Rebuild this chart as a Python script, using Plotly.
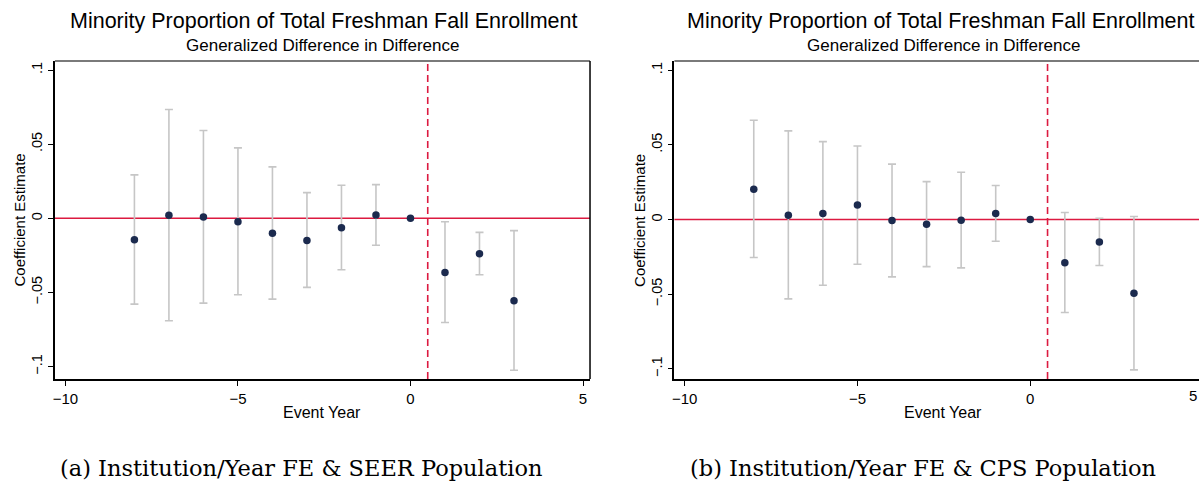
import plotly.graph_objects as go

# ---------------- data ----------------
event_years = [-8, -7, -6, -5, -4, -3, -2, -1, 0, 1, 2, 3]

coef_a = [-0.0144, 0.0020, 0.0009, -0.0023, -0.0101, -0.0149, -0.0063, 0.0023, 0.0, -0.0365, -0.0239, -0.0556]
ci_hi_a = [0.0293, 0.0734, 0.0592, 0.0475, 0.0347, 0.0173, 0.0223, 0.0227, None, -0.0023, -0.0095, -0.0083]
ci_lo_a = [-0.0579, -0.0691, -0.0572, -0.0516, -0.0545, -0.0466, -0.0347, -0.0182, None, -0.0703, -0.0381, -0.1025]

coef_b = [0.0203, 0.0029, 0.0040, 0.0098, -0.0007, -0.0031, -0.0004, 0.0040, 0.0, -0.0290, -0.0150, -0.0493]
ci_hi_b = [0.0665, 0.0594, 0.0522, 0.0493, 0.0371, 0.0254, 0.0317, 0.0228, None, 0.0047, 0.0009, 0.0020]
ci_lo_b = [-0.0254, -0.0531, -0.0440, -0.0299, -0.0384, -0.0315, -0.0324, -0.0145, None, -0.0623, -0.0308, -0.1007]

x_tickvals = [-10, -5, 0, 5]
x_ticktext = ["\u221210", "\u22125", "0", "5"]
y_tickvals = [-0.1, -0.05, 0, 0.05, 0.1]
y_ticktext = ["\u2212.1", "\u2212.05", "0", ".05", ".1"]

title_main = "Minority Proportion of Total Freshman Fall Enrollment"
title_sub = "Generalized Difference in Difference"
x_title = "Event Year"
y_title = "Coefficient Estimate"
captions = ["(a) Institution/Year FE &amp; SEER Population", "(b) Institution/Year FE &amp; CPS Population"]
treat_line = 0.5

# ---------------- style ----------------
W, H = 1199, 481
NAVY = "#1b2a4e"
CI_GRAY = "#c6c6c6"
RED = "#dc1a40"
SANS = "Liberation Sans, Arial, Helvetica, sans-serif"
SERIF = "DejaVu Serif, serif"


def px(x):
    return x / W


def py(y):
    return 1 - y / H


fig = go.Figure()

panels = [
    dict(coef=coef_a, hi=ci_hi_a, lo=ci_lo_a, xa="x", ya="y",
         dom=[px(53), px(589)], xr=[-10.304, 5.203], yr=[-0.1084, 0.1061],
         cx=321, tx=322, ytx=17.5, cap_x=300, cap=captions[0], right_border=True),
    dict(coef=coef_b, hi=ci_hi_b, lo=ci_lo_b, xa="x2", ya="y2",
         dom=[px(673.5), 1.0], xr=[-10.297, 4.882], yr=[-0.1068, 0.1062],
         cx=943, tx=940, ytx=638, cap_x=923, cap=captions[1], right_border=False),
]

shapes = []
annotations = []

for i, p in enumerate(panels):
    # confidence intervals (only where available)
    xs, ys, up, dn = [], [], [], []
    for e, c, h, l in zip(event_years, p["coef"], p["hi"], p["lo"]):
        if h is None or l is None:
            continue
        xs.append(e)
        ys.append(c)
        up.append(h - c)
        dn.append(c - l)
    fig.add_trace(go.Scatter(
        x=xs, y=ys, mode="markers", xaxis=p["xa"], yaxis=p["ya"],
        marker=dict(size=1, color="rgba(0,0,0,0)"),
        error_y=dict(type="data", symmetric=False, array=up, arrayminus=dn,
                     color=CI_GRAY, thickness=1.6, width=4),
        showlegend=False, hoverinfo="skip"))
    fig.add_trace(go.Scatter(
        x=event_years, y=p["coef"], mode="markers", xaxis=p["xa"], yaxis=p["ya"],
        marker=dict(size=7.5, color=NAVY), showlegend=False))

    xd = p["xa"] + " domain"
    yd = p["ya"] + " domain"
    # zero line
    shapes.append(dict(type="line", xref=xd, yref=p["ya"], x0=0, x1=1, y0=0, y1=0,
                       line=dict(color=RED, width=1.6), layer="below"))
    # treatment line
    shapes.append(dict(type="line", xref=p["xa"], yref=yd, x0=treat_line, x1=treat_line, y0=0, y1=1,
                       line=dict(color=RED, width=1.6, dash="7px,4px"), layer="below"))
    # frame top (gray) and right (black)
    shapes.append(dict(type="line", xref=xd, yref=yd, x0=0, x1=1, y0=1, y1=1,
                       line=dict(color="#7a7a7a", width=2)))
    if p["right_border"]:
        shapes.append(dict(type="line", xref=xd, yref=yd, x0=1, x1=1, y0=0, y1=1,
                           line=dict(color="#000000", width=1.5)))

    # titles
    annotations.append(dict(text=title_main, xref="paper", yref="paper", x=px(p["tx"]), y=py(21),
                            showarrow=False, xanchor="center", yanchor="middle",
                            font=dict(family=SANS, size=21.5, color="#000")))
    annotations.append(dict(text=title_sub, xref="paper", yref="paper", x=px(p["cx"]), y=py(45.5),
                            showarrow=False, xanchor="center", yanchor="middle",
                            font=dict(family=SANS, size=17, color="#000")))
    # axis titles
    annotations.append(dict(text=x_title, xref="paper", yref="paper", x=px(p["cx"]), y=py(412),
                            showarrow=False, xanchor="center", yanchor="middle",
                            font=dict(family=SANS, size=16, color="#000")))
    annotations.append(dict(text=y_title, xref="paper", yref="paper", x=px(p["ytx"]), y=py(220),
                            showarrow=False, xanchor="center", yanchor="middle", textangle=-90,
                            font=dict(family=SANS, size=15, color="#000")))
    # caption
    annotations.append(dict(text=p["cap"], xref="paper", yref="paper", x=px(p["cap_x"]), y=py(468),
                            showarrow=False, xanchor="center", yanchor="middle",
                            font=dict(family=SERIF, size=22.5, color="#000")))

# "5" tick label of the right panel, which sits at the very edge of the picture
annotations.append(dict(text=x_ticktext[-1], xref="paper", yref="paper", x=1.0, y=py(395),
                        showarrow=False, xanchor="right", yanchor="middle",
                        font=dict(family=SANS, size=15, color="#000")))

axis_common_x = dict(tickvals=x_tickvals, ticktext=x_ticktext, showgrid=False, zeroline=False,
                     showline=True, linecolor="#000", linewidth=1.5, ticks="outside", ticklen=5,
                     tickwidth=1.2, tickcolor="#000", tickfont=dict(family=SANS, size=15, color="#000"))
axis_common_y = dict(tickvals=y_tickvals, ticktext=y_ticktext, showgrid=False, zeroline=False,
                     showline=True, linecolor="#000", linewidth=1.5, ticks="outside", ticklen=5,
                     tickwidth=1.2, tickcolor="#000", tickangle=-90,
                     tickfont=dict(family=SANS, size=14.5, color="#000"))

yd = [py(379), py(61)]

fig.update_layout(
    width=W, height=H, margin=dict(l=0, r=0, t=0, b=0),
    paper_bgcolor="white", plot_bgcolor="white",
    xaxis=dict(domain=panels[0]["dom"], range=panels[0]["xr"], anchor="y", **axis_common_x),
    yaxis=dict(domain=yd, range=panels[0]["yr"], anchor="x", **axis_common_y),
    xaxis2=dict(domain=panels[1]["dom"], range=panels[1]["xr"], anchor="y2", **axis_common_x),
    yaxis2=dict(domain=yd, range=panels[1]["yr"], anchor="x2", **axis_common_y),
    shapes=shapes, annotations=annotations, showlegend=False,
)

fig.write_html("out.html")
